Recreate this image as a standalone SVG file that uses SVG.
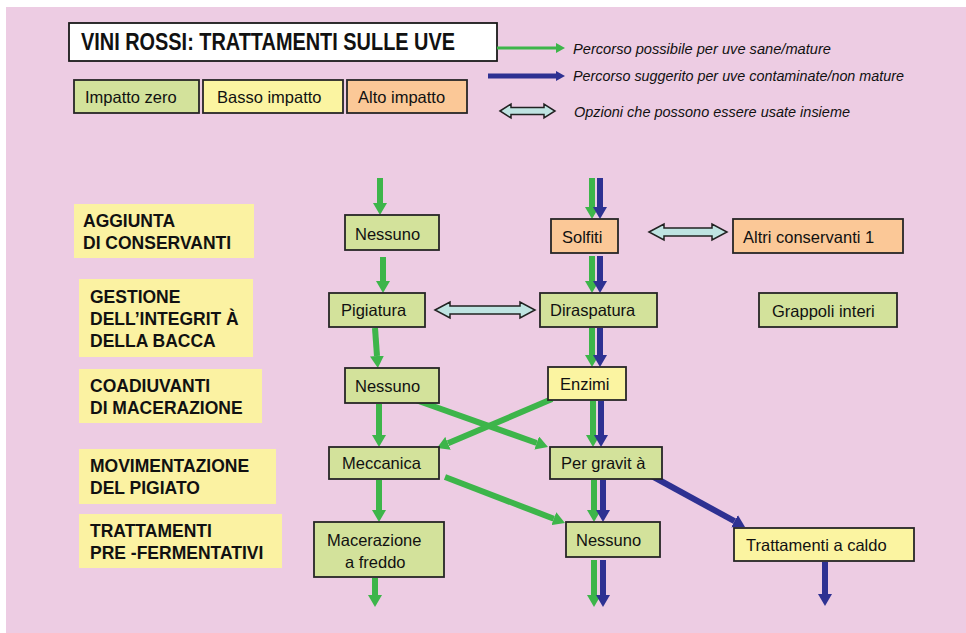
<svg xmlns="http://www.w3.org/2000/svg" width="966" height="633" viewBox="0 0 966 633">
<style>
  .bg{fill:#EDCCE3}
  .node{stroke:#262626;stroke-width:1.8}
  .g{fill:#D3E29B}
  .y{fill:#FBF4A1}
  .o{fill:#FBC897}
  .cat{fill:#FBF2A2}
  .t{font-family:"Liberation Sans",Arial,sans-serif;font-size:16.5px;fill:#111}
  .ct{font-family:"Liberation Sans",Arial,sans-serif;font-size:17.5px;font-weight:bold;fill:#111}
  .lt{font-family:"Liberation Sans",Arial,sans-serif;font-size:14px;font-style:italic;fill:#111}
  .ga{stroke:#3DB54A;stroke-width:6;fill:none;marker-end:url(#hg)}
  .ba{stroke:#2E3192;stroke-width:6;fill:none;marker-end:url(#hb)}
  .dbl{fill:#BFE4E2;stroke:#222;stroke-width:1.5;stroke-linejoin:miter}
</style>
<defs>
  <marker id="hg" viewBox="0 0 12 14" refX="0" refY="7" markerWidth="12" markerHeight="14" markerUnits="userSpaceOnUse" orient="auto">
    <path d="M0,0 L12,7 L0,14 z" fill="#3DB54A"/>
  </marker>
  <marker id="hb" viewBox="0 0 12 14" refX="0" refY="7" markerWidth="12" markerHeight="14" markerUnits="userSpaceOnUse" orient="auto">
    <path d="M0,0 L12,7 L0,14 z" fill="#2E3192"/>
  </marker>
  <marker id="hgs" viewBox="0 0 9 10" refX="0" refY="5" markerWidth="9" markerHeight="10" markerUnits="userSpaceOnUse" orient="auto">
    <path d="M0,0 L9,5 L0,10 z" fill="#3DB54A"/>
  </marker>
  <marker id="hbs" viewBox="0 0 9 10" refX="0" refY="5" markerWidth="9" markerHeight="10" markerUnits="userSpaceOnUse" orient="auto">
    <path d="M0,0 L9,5 L0,10 z" fill="#2E3192"/>
  </marker>
</defs>
<rect x="0" y="0" width="966" height="633" fill="#ffffff"/>
<rect class="bg" x="6" y="7" width="960" height="626"/>

<!-- Title -->
<g id="title">
  <rect x="69" y="23" width="428" height="38" fill="#ffffff" stroke="#1a1a1a" stroke-width="1.8"/>
  <text x="81" y="50" font-family="'Liberation Sans',Arial,sans-serif" font-size="23" font-weight="bold" fill="#111" textLength="374" lengthAdjust="spacingAndGlyphs">VINI ROSSI: TRATTAMENTI SULLE UVE</text>
</g>

<!-- Impact legend -->
<g id="legend-impatto-zero">
  <rect class="node g" x="74" y="80" width="125" height="33"/>
  <text class="t" x="85" y="103">Impatto zero</text>
</g>
<g id="legend-basso-impatto">
  <rect class="node y" x="203" y="80" width="140" height="33"/>
  <text class="t" x="217" y="103">Basso impatto</text>
</g>
<g id="legend-alto-impatto">
  <rect class="node o" x="347" y="80" width="120" height="33"/>
  <text class="t" x="358" y="103">Alto impatto</text>
</g>

<!-- Arrow legend -->
<g id="legend-arrows">
  <line x1="497" y1="48" x2="556" y2="48" stroke="#3DB54A" stroke-width="3" marker-end="url(#hgs)"/>
  <text class="lt" x="573" y="54" textLength="258" lengthAdjust="spacingAndGlyphs">Percorso possibile per uve sane/mature</text>
  <line x1="488" y1="76" x2="556" y2="76" stroke="#2E3192" stroke-width="5" marker-end="url(#hbs)"/>
  <text class="lt" x="573" y="81" textLength="331" lengthAdjust="spacingAndGlyphs">Percorso suggerito per uve contaminate/non mature</text>
  <path class="dbl" d="M500,111 L511,104 L511,107.5 L544,107.5 L544,104 L555,111 L544,118 L544,114.5 L511,114.5 L511,118 Z"/>
  <text class="lt" x="574" y="117" textLength="276" lengthAdjust="spacingAndGlyphs">Opzioni che possono essere usate insieme</text>
</g>

<!-- Category labels -->
<g id="cat-conservanti">
  <rect class="cat" x="74" y="204" width="180" height="54"/>
  <text class="ct" x="83" y="227">AGGIUNTA</text>
  <text class="ct" x="83" y="249">DI CONSERVANTI</text>
</g>
<g id="cat-integrita">
  <rect class="cat" x="79" y="279" width="174" height="78"/>
  <text class="ct" x="90" y="303">GESTIONE</text>
  <text class="ct" x="90" y="325">DELL’INTEGRIT À</text>
  <text class="ct" x="90" y="347">DELLA BACCA</text>
</g>
<g id="cat-coadiuvanti">
  <rect class="cat" x="79" y="369" width="183" height="54"/>
  <text class="ct" x="90" y="392">COADIUVANTI</text>
  <text class="ct" x="90" y="414">DI MACERAZIONE</text>
</g>
<g id="cat-movimentazione">
  <rect class="cat" x="79" y="449" width="197" height="55"/>
  <text class="ct" x="90" y="472">MOVIMENTAZIONE</text>
  <text class="ct" x="90" y="494">DEL PIGIATO</text>
</g>
<g id="cat-trattamenti">
  <rect class="cat" x="79" y="514" width="203" height="54"/>
  <text class="ct" x="90" y="537">TRATTAMENTI</text>
  <text class="ct" x="90" y="559">PRE -FERMENTATIVI</text>
</g>

<!-- Connectors -->
<g id="connectors">
  <line class="ga" x1="380" y1="178" x2="380" y2="203"/>
  <line class="ga" x1="592" y1="178" x2="592" y2="207"/>
  <line class="ba" x1="600" y1="178" x2="600" y2="207"/>
  <line class="ga" x1="383" y1="257" x2="383" y2="281"/>
  <line class="ga" x1="592" y1="256" x2="592" y2="281"/>
  <line class="ba" x1="600" y1="256" x2="600" y2="281"/>
  <line class="ga" x1="375" y1="328" x2="377" y2="356"/>
  <line class="ga" x1="592" y1="328" x2="592" y2="355"/>
  <line class="ba" x1="600" y1="328" x2="600" y2="355"/>
  <line class="ga" x1="379" y1="404" x2="379" y2="435"/>
  <line class="ga" x1="413" y1="399" x2="536.7" y2="443"/>
  <line class="ga" x1="552" y1="399" x2="448" y2="443.3"/>
  <line class="ga" x1="593" y1="401" x2="593" y2="435"/>
  <line class="ba" x1="601" y1="401" x2="601" y2="435"/>
  <line class="ga" x1="379" y1="480" x2="379" y2="510"/>
  <line class="ga" x1="445" y1="477" x2="553.8" y2="518.7"/>
  <line class="ga" x1="594" y1="480" x2="594" y2="510"/>
  <line class="ba" x1="603" y1="480" x2="603" y2="510"/>
  <line class="ba" x1="650" y1="475" x2="734.5" y2="521.2"/>
  <line class="ga" x1="375" y1="578" x2="375" y2="595"/>
  <line class="ga" x1="594" y1="560" x2="594" y2="595"/>
  <line class="ba" x1="603" y1="560" x2="603" y2="595"/>
  <line class="ba" x1="825" y1="562" x2="825" y2="594"/>
  <path class="dbl" d="M435,310 L450,302 L450,306 L520,306 L520,302 L535,310 L520,318 L520,314 L450,314 L450,318 Z"/>
  <path class="dbl" d="M649,232 L664,224 L664,228 L712,228 L712,224 L727,232 L712,240 L712,236 L664,236 L664,240 Z"/>
</g>

<!-- Nodes -->
<g id="n-nessuno-1">
  <rect class="node g" x="345" y="215" width="94" height="35"/>
  <text class="t" x="355" y="240">Nessuno</text>
</g>
<g id="n-solfiti">
  <rect class="node o" x="551" y="219" width="67" height="34"/>
  <text class="t" x="562" y="243">Solfiti</text>
</g>
<g id="n-altri">
  <rect class="node o" x="733" y="219" width="170" height="34"/>
  <text class="t" x="743" y="243">Altri conservanti 1</text>
</g>
<g id="n-pigiatura">
  <rect class="node g" x="329" y="293" width="96" height="34"/>
  <text class="t" x="341" y="316">Pigiatura</text>
</g>
<g id="n-diraspatura">
  <rect class="node g" x="540" y="293" width="117" height="34"/>
  <text class="t" x="550" y="316">Diraspatura</text>
</g>
<g id="n-grappoli">
  <rect class="node g" x="759" y="293" width="138" height="34"/>
  <text class="t" x="772" y="317">Grappoli interi</text>
</g>
<g id="n-nessuno-2">
  <rect class="node g" x="345" y="368" width="94" height="35"/>
  <text class="t" x="355" y="392">Nessuno</text>
</g>
<g id="n-enzimi">
  <rect class="node y" x="548" y="367" width="78" height="33"/>
  <text class="t" x="560" y="390">Enzimi</text>
</g>
<g id="n-meccanica">
  <rect class="node g" x="329" y="447" width="110" height="32"/>
  <text class="t" x="342" y="469">Meccanica</text>
</g>
<g id="n-gravita">
  <rect class="node g" x="550" y="447" width="112" height="32"/>
  <text class="t" x="561" y="469">Per gravit à</text>
</g>
<g id="n-macerazione">
  <rect class="node g" x="314" y="522" width="130" height="55"/>
  <text class="t" x="327" y="546">Macerazione</text>
  <text class="t" x="345" y="568">a freddo</text>
</g>
<g id="n-nessuno-3">
  <rect class="node g" x="566" y="522" width="94" height="35"/>
  <text class="t" x="576" y="546">Nessuno</text>
</g>
<g id="n-caldo">
  <rect class="node y" x="734" y="528" width="180" height="33"/>
  <text class="t" x="746" y="551">Trattamenti a caldo</text>
</g>
</svg>
